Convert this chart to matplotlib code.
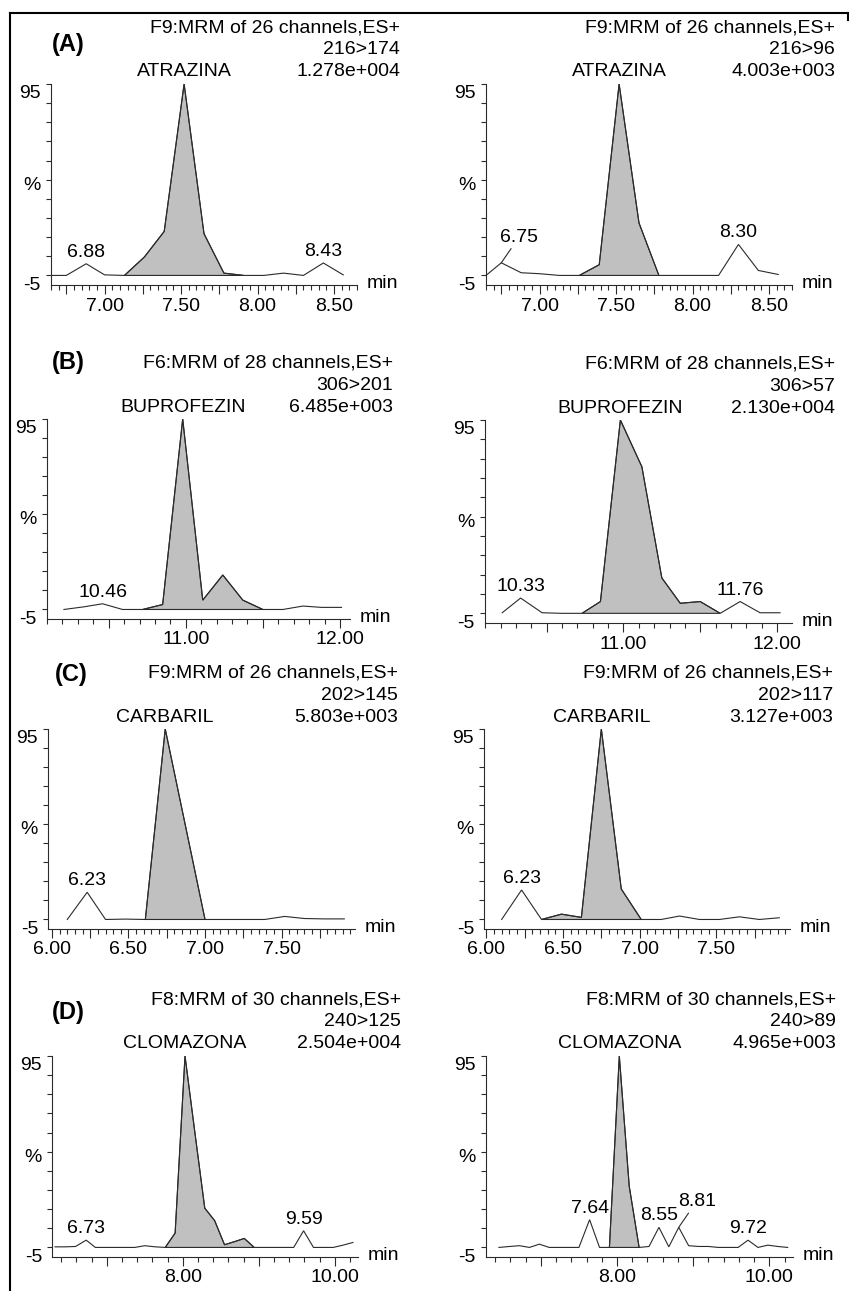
import matplotlib
matplotlib.use("Agg")
import matplotlib.pyplot as plt
import numpy as np
from matplotlib.lines import Line2D
from matplotlib.ticker import MultipleLocator, FuncFormatter

# Styling constants
FIG_W, FIG_H = 849, 1291
FONT = "Liberation Sans"
FONT_SIZE = 14
LINE_COLOR = "#2b2b2b"
FILL_COLOR = "#c0c0c0"
LINE_WIDTH = 0.8

# ---- data (time in min, intensity in %) ----
atrazina_174_t = [6.65, 6.75, 6.88, 7.00, 7.13, 7.26, 7.39, 7.52, 7.65, 7.78, 7.91, 8.04, 8.17, 8.30, 8.43, 8.56]
atrazina_174_i = [0, 0, 6.1, 0.3, 0, 9.6, 23, 100, 21.8, 1.2, 0, 0, 1.2, 0, 6.5, 0.3]

atrazina_96_t = [6.65, 6.75, 6.88, 7.00, 7.13, 7.26, 7.39, 7.52, 7.65, 7.78, 7.91, 8.04, 8.17, 8.30, 8.43, 8.56]
atrazina_96_i = [0, 6.6, 1.4, 0.9, 0, 0, 5.6, 100, 27.4, 0, 0, 0, 0, 16.2, 2.6, 0.5]

buprofezin_201_t = [10.21, 10.34, 10.46, 10.59, 10.72, 10.85, 10.98, 11.11, 11.24, 11.37, 11.50, 11.63, 11.76, 11.88, 12.01]
buprofezin_201_i = [0, 1.4, 3.0, 0, 0, 2.6, 100, 4.9, 18.1, 4.9, 0, 0, 1.8, 1.1, 1.1]

buprofezin_57_t = [10.21, 10.33, 10.47, 10.60, 10.73, 10.85, 10.98, 11.12, 11.25, 11.37, 11.50, 11.63, 11.76, 11.89, 12.02]
buprofezin_57_i = [0.3, 7.9, 0.3, 0, 0, 6.1, 100, 75.8, 18.3, 5.2, 6.1, 0, 6.1, 0.3, 0.3]

carbaril_145_t = [6.10, 6.23, 6.35, 6.48, 6.61, 6.74, 6.87, 7.00, 7.13, 7.26, 7.39, 7.52, 7.65, 7.78, 7.91]
carbaril_145_i = [0, 14.3, 0, 0.2, 0, 100, 50, 0, 0, 0, 0, 1.6, 0.5, 0.3, 0.3]

carbaril_117_t = [6.10, 6.23, 6.36, 6.49, 6.62, 6.75, 6.88, 7.01, 7.14, 7.26, 7.39, 7.52, 7.65, 7.78, 7.91]
carbaril_117_i = [0, 15.5, 0, 2.8, 1.1, 100, 16, 0, 0, 1.8, 0, 0, 1.4, 0, 0.9]

clomazona_125_t = [6.32, 6.45, 6.59, 6.73, 6.85, 6.98, 7.11, 7.24, 7.37, 7.50, 7.64, 7.77, 7.90, 8.03, 8.16, 8.29,
                   8.42, 8.55, 8.68, 8.81, 8.94, 9.07, 9.20, 9.33, 9.46, 9.59, 9.72, 9.85, 9.98, 10.11, 10.24]
clomazona_125_i = [0.3, 0.3, 0.5, 3.8, 0, 0, 0, 0, 0, 0.9, 0.3, 0, 7.5, 100, 60, 20.5,
                   14, 1.4, 3, 4.7, 0, 0, 0, 0, 0, 8.7, 0, 0, 0, 1.2, 2.6]

clomazona_89_t = [6.45, 6.59, 6.72, 6.85, 6.98, 7.11, 7.24, 7.37, 7.50, 7.64, 7.77, 7.90, 8.03, 8.16, 8.29,
                  8.42, 8.55, 8.68, 8.81, 8.94, 9.07, 9.20, 9.33, 9.46, 9.59, 9.72, 9.85, 9.98, 10.11, 10.24]
clomazona_89_i = [0, 0.5, 0.9, 0, 1.7, 0, 0, 0, 0, 14.5, 0, 0, 100, 32, 0,
                  0.5, 10.5, 0.3, 10.5, 0.9, 0.5, 0.5, 0, 0, 0, 3.8, 0, 1.2, 0.5, 0]

compounds = ["ATRAZINA", "ATRAZINA", "BUPROFEZIN", "BUPROFEZIN",
             "CARBARIL", "CARBARIL", "CLOMAZONA", "CLOMAZONA"]
functions = ["F9:MRM of 26 channels,ES+", "F9:MRM of 26 channels,ES+",
             "F6:MRM of 28 channels,ES+", "F6:MRM of 28 channels,ES+",
             "F9:MRM of 26 channels,ES+", "F9:MRM of 26 channels,ES+",
             "F8:MRM of 30 channels,ES+", "F8:MRM of 30 channels,ES+"]
transitions = ["216>174", "216>96", "306>201", "306>57",
               "202>145", "202>117", "240>125", "240>89"]
intensities = ["1.278e+004", "4.003e+003", "6.485e+003", "2.130e+004",
               "5.803e+003", "3.127e+003", "2.504e+004", "4.965e+003"]
# integrated peak window (start, end)
peak_windows = [(7.13, 7.91), (7.26, 7.78), (10.72, 11.50), (10.73, 11.63),
                (6.61, 7.00), (6.36, 7.01), (7.77, 8.94), (7.90, 8.29)]
# labelled minor peaks
peak_labels = [[6.88, 8.43], [6.75, 8.30], [10.46], [10.33, 11.76],
               [6.23], [6.23], [6.73, 9.59], [7.64, 8.55, 8.81, 9.72]]
leader_labels = [[], [6.75], [], [], [], [], [], [8.81]]
panel_letters = ["(A)", "(B)", "(C)", "(D)"]

traces = [(atrazina_174_t, atrazina_174_i), (atrazina_96_t, atrazina_96_i),
          (buprofezin_201_t, buprofezin_201_i), (buprofezin_57_t, buprofezin_57_i),
          (carbaril_145_t, carbaril_145_i), (carbaril_117_t, carbaril_117_i),
          (clomazona_125_t, clomazona_125_i), (clomazona_89_t, clomazona_89_i)]

# ---- layout (pixels): left, right, top(100 %), bottom(-5 %), x limits ----
AXES_PX = [
    (51, 357, 84, 285, 6.65, 8.65),
    (486, 792, 84, 285, 6.65, 8.65),
    (47, 350, 419, 619, 10.10, 12.065),
    (485, 792, 420, 623, 10.098, 12.098),
    (48, 355, 729, 929, 5.974, 7.98),
    (484, 790, 729, 929, 5.985, 7.98),
    (52, 358, 1056, 1257, 6.28, 10.306),
    (486, 793, 1056, 1257, 6.28, 10.31),
]
# (major step, label step, minor step) per row
TICK_STEPS = [(0.25, 0.5, 0.05), (0.5, 1.0, 0.1), (0.25, 0.5, 0.05), (1.0, 2.0, 0.2)]
LETTER_PX = [(52, 45), (52, 363), (55, 675), (52, 1012)]

plt.rcParams["font.family"] = [FONT, "DejaVu Sans"]
plt.rcParams["font.size"] = FONT_SIZE

fig = plt.figure(figsize=(FIG_W / 100, FIG_H / 100), dpi=100)


def px_rect(left, right, top, bottom):
    return [left / FIG_W, 1 - bottom / FIG_H, (right - left) / FIG_W, (bottom - top) / FIG_H]


def label_formatter(step):
    def fmt(v, pos):
        k = v / step
        return f"{v:.2f}" if abs(k - round(k)) < 1e-6 else ""
    return FuncFormatter(fmt)


for n, (t, inten) in enumerate(traces):
    left, right, top, bottom, x0, x1 = AXES_PX[n]
    ax = fig.add_axes(px_rect(left, right, top, bottom))
    t = np.array(t)
    inten = np.array(inten)

    # integrated peak area, closed by a straight baseline
    start, end = peak_windows[n]
    mask = (t >= start - 1e-9) & (t <= end + 1e-9)
    ax.fill(t[mask], inten[mask], facecolor=FILL_COLOR, edgecolor=LINE_COLOR,
            linewidth=LINE_WIDTH)
    ax.plot(t, inten, color=LINE_COLOR, linewidth=LINE_WIDTH, solid_joinstyle="miter")

    ax.set_xlim(x0, x1)
    ax.set_ylim(-5, 100)
    for side in ("top", "right"):
        ax.spines[side].set_visible(False)
    for side in ("left", "bottom"):
        ax.spines[side].set_linewidth(LINE_WIDTH)
        ax.spines[side].set_color(LINE_COLOR)

    major, lab, minor = TICK_STEPS[n // 2]
    ax.xaxis.set_major_locator(MultipleLocator(major))
    ax.xaxis.set_minor_locator(MultipleLocator(minor))
    ax.xaxis.set_major_formatter(label_formatter(lab))
    ax.yaxis.set_major_locator(MultipleLocator(10))
    ax.tick_params(axis="x", which="major", direction="out", length=6.5, width=LINE_WIDTH,
                   color=LINE_COLOR, labelsize=FONT_SIZE, pad=2.5)
    ax.tick_params(axis="x", which="minor", direction="out", length=3.6, width=LINE_WIDTH,
                   color=LINE_COLOR)
    ax.tick_params(axis="y", direction="out", length=3.6, width=LINE_WIDTH,
                   color=LINE_COLOR, labelleft=False)
    ax.patch.set_alpha(0)

    # y axis annotations
    yt = ax.get_yaxis_transform()
    for yv, txt in ((95, "95"), (47, "%"), (-5, "-5")):
        ax.annotate(txt, xy=(0, yv), xycoords=yt, xytext=(-10, 0), textcoords="offset pixels",
                    ha="right", va="center", fontsize=FONT_SIZE)
    ax.annotate("min", xy=(1, -5), xycoords=yt, xytext=(10, 2), textcoords="offset pixels",
                ha="left", va="center", fontsize=FONT_SIZE)

    # header block
    for dy, txt in ((56, functions[n]), (34, transitions[n]), (12, intensities[n])):
        ax.annotate(txt, xy=(1, 1), xycoords="axes fraction", xytext=(43, dy),
                    textcoords="offset pixels", ha="right", va="center", fontsize=FONT_SIZE)
    apex = t[np.argmax(inten)]
    ax.annotate(compounds[n], xy=(apex, 1), xycoords=ax.get_xaxis_transform(),
                xytext=(0, 12), textcoords="offset pixels", ha="center", va="center",
                fontsize=FONT_SIZE)

    # minor peak labels
    for pt in peak_labels[n]:
        k = int(np.argmin(np.abs(t - pt)))
        if pt in leader_labels[n]:
            ax.annotate(f"{pt:.2f}", xy=(t[k], inten[k]), xytext=(18, 17),
                        textcoords="offset pixels", ha="center", va="bottom",
                        fontsize=FONT_SIZE,
                        arrowprops=dict(arrowstyle="-", color=LINE_COLOR, lw=LINE_WIDTH,
                                        shrinkA=0, shrinkB=0, relpos=(0.35, 0.05)))
        else:
            ax.annotate(f"{pt:.2f}", xy=(t[k], inten[k]), xytext=(0, 3),
                        textcoords="offset pixels", ha="center", va="bottom",
                        fontsize=FONT_SIZE)

# panel letters
for letter, (lx, ly) in zip(panel_letters, LETTER_PX):
    fig.text(lx / FIG_W, 1 - ly / FIG_H, letter, ha="left", va="center",
             fontsize=17, fontweight="bold")

# frame around the figure
fig.add_artist(Line2D([10 / FIG_W, 848 / FIG_W], [1 - 13 / FIG_H, 1 - 13 / FIG_H],
                      color="black", linewidth=1.5))
fig.add_artist(Line2D([10 / FIG_W, 10 / FIG_W], [1 - 13 / FIG_H, 0],
                      color="black", linewidth=1.5))
fig.add_artist(Line2D([848 / FIG_W, 848 / FIG_W], [1 - 13 / FIG_H, 1 - 20 / FIG_H],
                      color="black", linewidth=1.5))

fig.savefig("out.png", dpi=100, facecolor="white")
